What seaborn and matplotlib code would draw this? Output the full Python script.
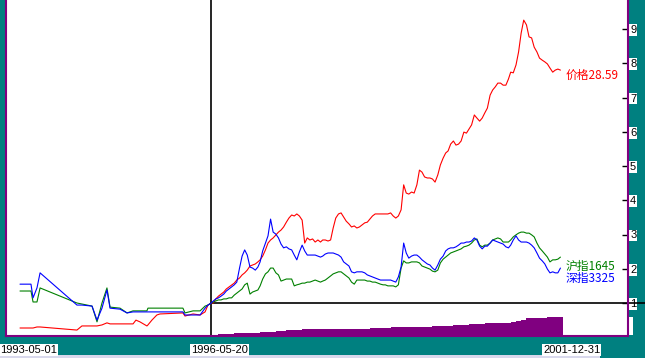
import matplotlib
matplotlib.use("Agg")
import matplotlib.pyplot as plt
import matplotlib.dates as mdates
from matplotlib.patches import Rectangle
import pandas as pd
import seaborn as sns

# ---------------- data (values relative to 1996-05-20 = 1) ----------------
dates_early = ['1993-05-01', '1993-07-04', '1993-07-16', '1993-08-08', '1993-08-26',
               '1994-03-29', '1994-04-27', '1994-06-25', '1994-07-24', '1994-08-22',
               '1994-09-20', '1994-10-08', '1994-12-05', '1995-01-15', '1995-02-19',
               '1995-03-08', '1995-03-31', '1995-05-11', '1995-05-17', '1995-06-09',
               '1995-07-08', '1995-07-26', '1995-12-07', '1995-12-19', '1996-02-04',
               '1996-03-16', '1996-04-14', '1996-05-01', '1996-05-20']
price_early = [0.27, 0.27, 0.27, 0.30, 0.30, 0.21, 0.33, 0.33, 0.33, 0.36,
               0.42, 0.39, 0.39, 0.39, 0.39, 0.50, 0.45, 0.33, 0.36, 0.50,
               0.65, 0.68, 0.71, 0.62, 0.68, 0.65, 0.74, 0.94, 1.00]
sz_early = [1.55, 1.55, 1.15, 1.44, 1.88, 0.94, 0.94, 0.91, 0.50, 0.85,
            1.38, 0.85, 0.82, 0.71, 0.74, 0.74, 0.74, 0.74, 0.74, 0.74,
            0.74, 0.74, 0.74, 0.65, 0.65, 0.65, 0.85, 0.94, 1.00]
sh_early = [1.35, 1.35, 1.03, 1.03, 1.44, 1.00, 0.97, 0.91, 0.45, 1.00,
            1.44, 0.88, 0.85, 0.71, 0.77, 0.77, 0.77, 0.77, 0.85, 0.85,
            0.85, 0.85, 0.85, 0.71, 0.77, 0.77, 0.91, 0.94, 1.00]

dates_late = [
    '1996-06-01', '1996-06-16', '1996-07-01', '1996-07-16', '1996-08-01', '1996-08-16',
    '1996-09-01', '1996-09-16', '1996-10-01', '1996-10-16', '1996-11-01', '1996-11-16',
    '1996-12-01', '1996-12-16',
    '1997-01-01', '1997-01-16', '1997-02-01', '1997-02-16', '1997-03-01', '1997-03-16',
    '1997-04-01', '1997-04-16', '1997-05-01', '1997-05-16', '1997-06-01', '1997-06-16',
    '1997-07-01', '1997-07-16', '1997-08-01', '1997-08-16', '1997-09-01', '1997-09-16',
    '1997-10-01', '1997-10-16', '1997-11-01', '1997-11-16', '1997-12-01', '1997-12-16',
    '1998-01-01', '1998-01-16', '1998-02-01', '1998-02-16', '1998-03-01', '1998-03-16',
    '1998-04-01', '1998-04-16', '1998-05-01', '1998-05-16', '1998-06-01', '1998-06-16',
    '1998-07-01', '1998-07-16', '1998-08-01', '1998-08-16', '1998-09-01', '1998-09-16',
    '1998-10-01', '1998-10-16', '1998-11-01', '1998-11-16', '1998-12-01', '1998-12-16',
    '1999-01-01', '1999-01-16', '1999-02-01', '1999-02-16', '1999-03-01', '1999-03-16',
    '1999-04-01', '1999-04-16', '1999-05-01', '1999-05-16', '1999-06-01', '1999-06-16',
    '1999-07-01', '1999-07-16', '1999-08-01', '1999-08-16', '1999-09-01', '1999-09-16',
    '1999-10-01', '1999-10-16', '1999-11-01', '1999-11-16', '1999-12-01', '1999-12-16',
    '2000-01-01', '2000-01-16', '2000-02-01', '2000-02-16', '2000-03-01', '2000-03-16',
    '2000-04-01', '2000-04-16', '2000-05-01', '2000-05-16', '2000-06-01', '2000-06-16',
    '2000-07-01', '2000-07-16', '2000-08-01', '2000-08-16', '2000-09-01', '2000-09-16',
    '2000-10-01', '2000-10-16', '2000-11-01', '2000-11-16', '2000-12-01', '2000-12-16',
    '2001-01-01', '2001-01-16', '2001-02-01', '2001-02-16', '2001-03-01', '2001-03-16',
    '2001-04-01', '2001-04-16', '2001-05-01', '2001-05-16', '2001-06-01', '2001-06-16',
    '2001-07-01', '2001-07-16', '2001-08-01', '2001-08-16', '2001-09-01', '2001-09-16',
    '2001-10-01', '2001-10-16', '2001-11-01', '2001-11-16', '2001-12-01', '2001-12-16']

price_late = [
    1.00, 1.12, 1.20, 1.26, 1.32, 1.41, 1.47, 1.53, 1.58, 1.67,
    1.73, 1.82, 1.88, 1.96, 2.08, 2.11, 2.14, 2.20, 2.26, 2.37,
    2.55, 2.75, 2.84, 2.90, 2.99, 3.07, 3.13, 3.22, 3.36, 3.48,
    3.57, 3.54, 3.60, 3.54, 3.42, 2.75, 2.90, 2.84, 2.87, 2.78,
    2.84, 2.78, 2.84, 2.84, 2.81, 2.84, 3.19, 3.48, 3.60, 3.63,
    3.51, 3.39, 3.31, 3.22, 3.25, 3.19, 3.22, 3.28, 3.34, 3.36,
    3.45, 3.54, 3.60, 3.60, 3.60, 3.60, 3.60, 3.60, 3.63, 3.54,
    3.48, 3.54, 3.72, 4.45, 4.21, 4.18, 4.24, 4.21, 4.45, 4.88,
    4.82, 4.68, 4.65, 4.65, 4.62, 4.53, 4.74, 5.03, 5.23, 5.38,
    5.44, 5.64, 5.73, 5.61, 5.64, 5.73, 5.99, 5.96, 6.08, 6.20,
    6.49, 6.40, 6.31, 6.40, 6.55, 6.69, 7.07, 7.22, 7.31, 7.42,
    7.42, 7.36, 7.36, 7.54, 7.74, 7.72, 7.95, 8.33, 8.88, 9.26,
    9.12, 8.77, 8.74, 8.47, 8.33, 8.15, 8.09, 8.04, 7.98, 7.86,
    7.74, 7.80, 7.83, 7.80]
sz_late = [
    1.06, 1.12, 1.15, 1.20, 1.26, 1.35, 1.41, 1.47, 1.53, 1.61,
    2.02, 2.37, 2.55, 2.40, 2.05, 2.02, 1.96, 2.05, 2.20, 2.52,
    2.75, 2.96, 3.45, 3.07, 3.01, 2.90, 2.72, 2.61, 2.64, 2.58,
    2.55, 2.40, 2.26, 2.49, 2.69, 2.52, 2.40, 2.40, 2.40, 2.40,
    2.37, 2.34, 2.37, 2.43, 2.46, 2.46, 2.46, 2.43, 2.40, 2.34,
    2.20, 2.14, 2.08, 1.91, 1.88, 1.91, 1.91, 1.91, 1.88, 1.82,
    1.79, 1.76, 1.73, 1.70, 1.67, 1.67, 1.67, 1.67, 1.67, 1.64,
    1.61, 1.76, 2.05, 2.75, 2.46, 2.31, 2.37, 2.40, 2.40, 2.34,
    2.26, 2.20, 2.14, 2.11, 2.02, 1.96, 2.11, 2.28, 2.37, 2.52,
    2.58, 2.61, 2.61, 2.64, 2.69, 2.75, 2.75, 2.78, 2.78, 2.81,
    2.90, 2.84, 2.66, 2.58, 2.66, 2.66, 2.75, 2.84, 2.81, 2.78,
    2.75, 2.72, 2.64, 2.61, 2.69, 2.84, 2.96, 2.84, 2.78, 2.78,
    2.78, 2.75, 2.69, 2.61, 2.46, 2.31, 2.23, 2.14, 1.99, 1.88,
    1.91, 1.88, 1.88, 2.02]
sh_late = [
    1.03, 1.06, 1.09, 1.09, 1.12, 1.12, 1.15, 1.15, 1.23, 1.29,
    1.35, 1.41, 1.53, 1.58, 1.26, 1.32, 1.35, 1.38, 1.50, 1.70,
    1.85, 1.91, 2.02, 2.02, 1.88, 1.82, 1.64, 1.67, 1.70, 1.70,
    1.70, 1.50, 1.53, 1.55, 1.58, 1.58, 1.61, 1.61, 1.64, 1.67,
    1.64, 1.61, 1.64, 1.67, 1.73, 1.79, 1.85, 1.88, 1.91, 1.91,
    1.85, 1.79, 1.73, 1.61, 1.55, 1.67, 1.67, 1.67, 1.67, 1.64,
    1.64, 1.61, 1.61, 1.58, 1.55, 1.53, 1.53, 1.50, 1.50, 1.50,
    1.47, 1.53, 2.02, 2.23, 2.17, 2.17, 2.20, 2.20, 2.20, 2.17,
    2.08, 2.05, 2.02, 1.99, 1.93, 1.91, 1.96, 2.17, 2.28, 2.34,
    2.40, 2.46, 2.49, 2.52, 2.55, 2.58, 2.64, 2.66, 2.69, 2.75,
    2.84, 2.87, 2.69, 2.64, 2.69, 2.69, 2.75, 2.84, 2.87, 2.90,
    2.87, 2.78, 2.78, 2.78, 2.84, 2.93, 2.99, 3.04, 3.07, 3.07,
    3.04, 3.04, 2.99, 2.93, 2.75, 2.61, 2.52, 2.43, 2.34, 2.20,
    2.26, 2.26, 2.28, 2.34]

# monthly volume (arbitrary units), one bar per month from 1996-06 to 2001-12
volume = [15, 20, 20, 25, 30, 30, 30, 35, 35, 40,
          40, 45, 50, 55, 60, 60, 65, 70, 70, 70,
          70, 70, 70, 75, 75, 75, 75, 75, 75, 75,
          80, 80, 85, 85, 90, 90, 90, 90, 90, 90,
          95, 95, 100, 100, 105, 105, 110, 110, 115, 120,
          120, 125, 130, 130, 130, 130, 135, 140, 150, 160,
          180, 180, 185, 185, 190, 190, 190]

series_names = ['价格', '沪指', '深指']
series_colors = ['#ff0000', '#008000', '#0000ff']
series_labels = ['价格28.59', '沪指1645', '深指3325']
date_labels = ['1993-05-01', '1996-05-20', '2001-12-31']
y_ticks = [1, 2, 3, 4, 5, 6, 7, 8, 9]

# ---------------- build long-form frame ----------------
all_dates = pd.to_datetime(dates_early + dates_late)
frames = []
for name, vals in zip(series_names,
                      [price_early + price_late, sh_early + sh_late, sz_early + sz_late]):
    frames.append(pd.DataFrame({'date': all_dates, 'value': vals, 'series': name}))
df = pd.concat(frames, ignore_index=True)
vol_dates = pd.to_datetime(dates_late[::2])

# ---------------- figure ----------------
sns.set_style('white')
plt.rcParams['font.family'] = ['Liberation Sans', 'DejaVu Sans']

W, H = 645, 358
TEAL = '#008080'
PURPLE = '#800080'
fig = plt.figure(figsize=(W / 100, H / 100), dpi=100, facecolor=TEAL)
ax = fig.add_axes([6 / W, 22 / H, 622 / W, 336 / H])

start = pd.Timestamp(date_labels[0])
px_per_day = 543 / (pd.Timestamp(date_labels[2]) - start).days
x0 = start - pd.Timedelta(days=14 / px_per_day)
x1 = start + pd.Timedelta(days=608 / px_per_day)

# volume area on a twin axis (drawn below the lines)
ax2 = ax.twinx()
ax2.bar(vol_dates, volume, width=31, align='edge', color=PURPLE, linewidth=0)
ax2.set_ylim(0, 3360)
ax2.set_yticks([])
for s in ax2.spines.values():
    s.set_visible(False)
ax2.set_xlim(x0, x1)

sns.lineplot(data=df, x='date', y='value', hue='series', hue_order=series_names,
             palette=series_colors, estimator=None, sort=True, legend=False,
             linewidth=0.8, ax=ax)
ax.set_zorder(ax2.get_zorder() + 1)
ax.patch.set_alpha(0.0)
ax2.patch.set_visible(True)
ax2.patch.set_facecolor('white')

ax.set_xlim(x0, x1)
ax.set_ylim(1 - 33 / 34.25, 1 + 303 / 34.25)
ax.set_xlabel('')
ax.set_ylabel('')
ax.set_xticks([])
ax.grid(False)

# spines
ax.spines['top'].set_visible(False)
for side in ['left', 'right', 'bottom']:
    ax.spines[side].set_color(PURPLE)
    ax.spines[side].set_linewidth(1.5)

# right-side y ticks
ax.yaxis.tick_right()
ax.set_yticks(y_ticks)
ax.set_yticklabels([str(t) for t in y_ticks])
ax.tick_params(axis='y', direction='in', length=4, width=1, colors='black',
               pad=1.5, labelsize=8, right=True, left=False)
for lab in ax.get_yticklabels():
    lab.set_bbox(dict(facecolor='white', edgecolor='none', pad=0.6))

# reference lines
base = pd.Timestamp(date_labels[1])
ax.axvline(base, color='black', linewidth=1.2, zorder=1)
xl = mdates.date2num(x0)
xr = mdates.date2num(x1)
xmin_frac = (mdates.date2num(base) - xl) / (xr - xl)
ax.axhline(1, xmin=xmin_frac, xmax=(W - 6) / 622, color='black', linewidth=1.2,
           clip_on=False, zorder=1)

# date labels in white boxes below the plot
for d in date_labels:
    ax.annotate(d, xy=(pd.Timestamp(d), 0), xycoords=('data', 'axes fraction'),
                xytext=(-20, -9), textcoords='offset pixels', ha='left', va='top',
                fontsize=8, color='black', annotation_clip=False,
                bbox=dict(facecolor='white', edgecolor='none', pad=0.6))

# end-of-line labels
last_date = all_dates[-1]
last_vals = [price_late[-1], sh_late[-1], sz_late[-1]]
offsets = [-5, -9, -10]
for lab, col, v, off in zip(series_labels, series_colors, last_vals, offsets):
    ax.annotate(lab, xy=(last_date, v), xytext=(5, off), textcoords='offset pixels',
                ha='left', va='center', color=col, fontsize=8.5,
                family=['Noto Sans CJK SC', 'DejaVu Sans'])

# small window artefacts: white patch at lower right, scrollbar strip at bottom
fig.add_artist(Rectangle((628 / W, (H - 335) / H), 5 / W, 18 / H,
                         transform=fig.transFigure, facecolor='white', edgecolor='none'))
fig.add_artist(Rectangle((0, 0), 600 / W, 3 / H, transform=fig.transFigure,
                         facecolor='#d8d8ec', edgecolor='none'))

fig.savefig('out.png', dpi=100, facecolor=TEAL)
